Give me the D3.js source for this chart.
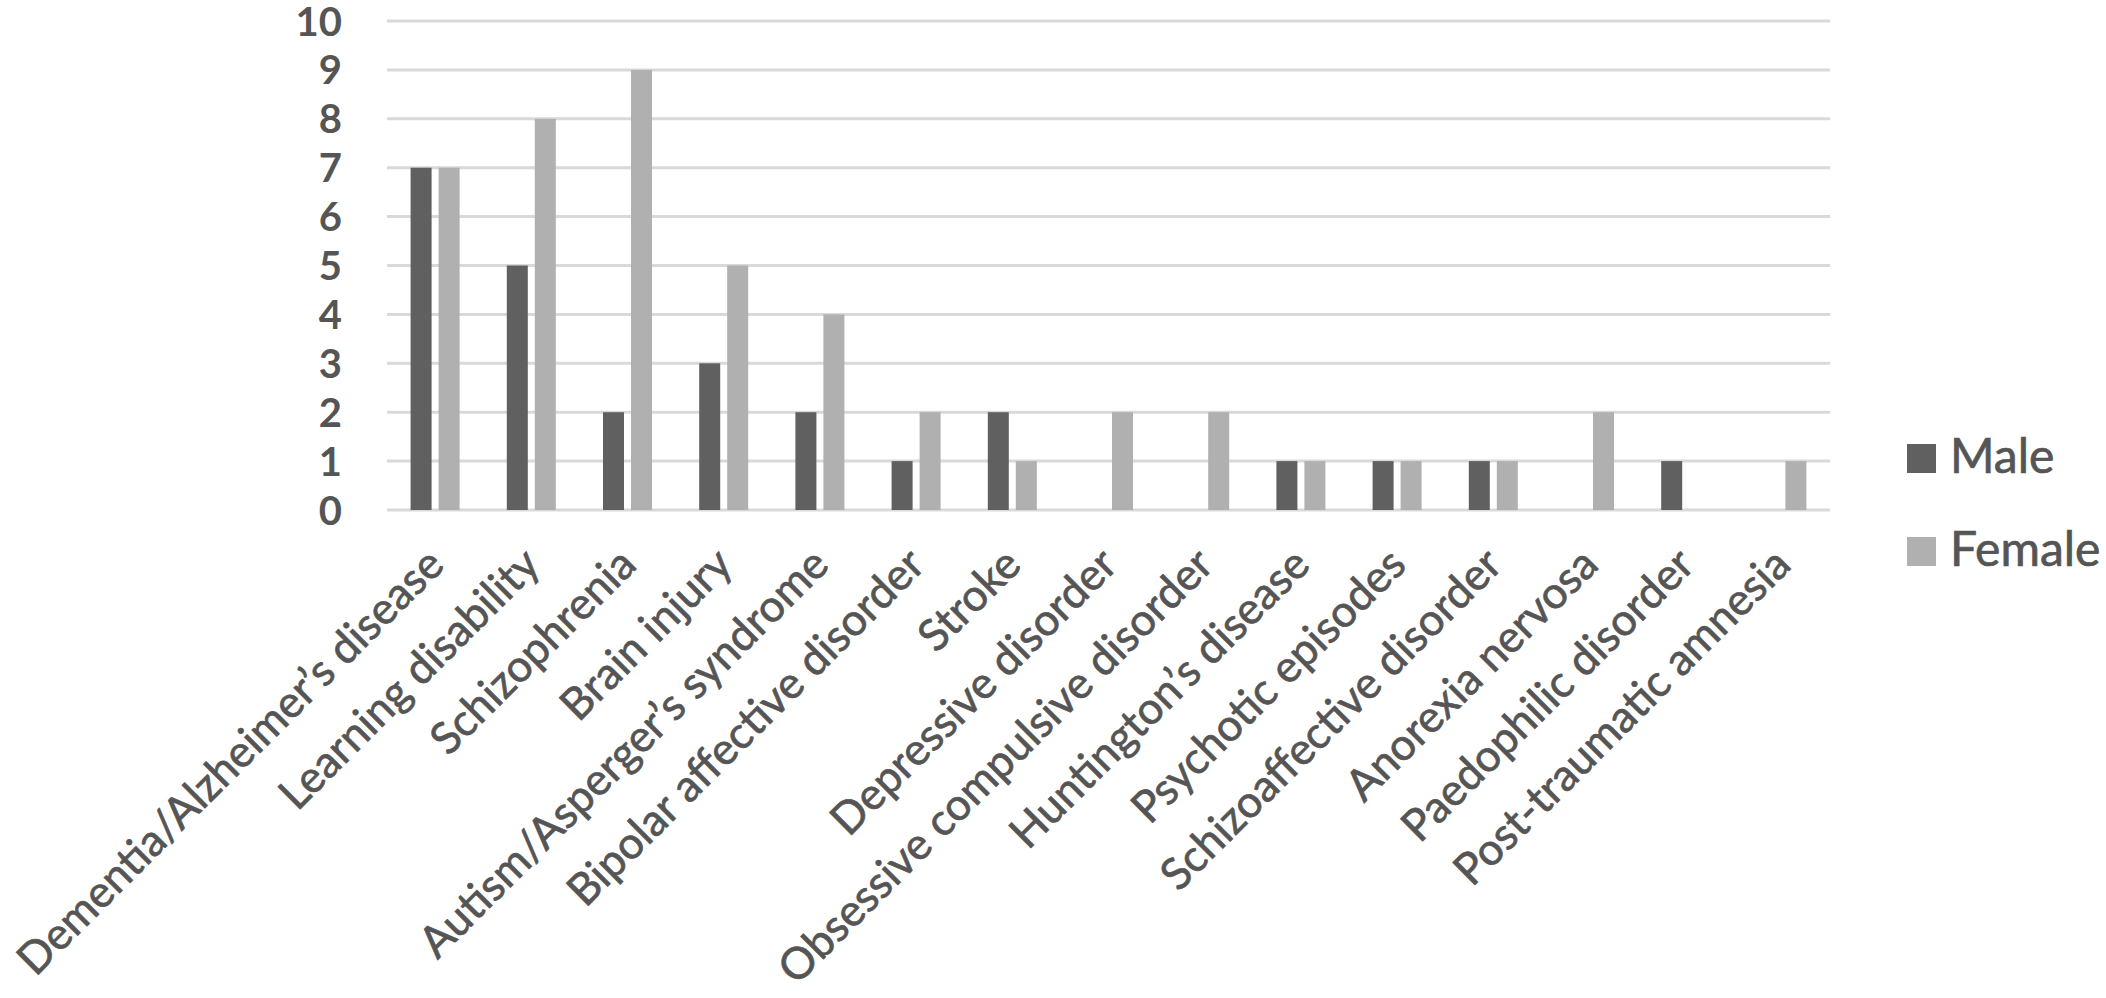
<!DOCTYPE html>
<html lang="en">
<head>
<meta charset="UTF-8">
<title>Diagnoses by sex</title>
<script src="https://cdn.jsdelivr.net/npm/d3@7"></script>
<style>
  body { margin: 0; background: #fff; }
  svg { display: block; }
  text { font-family: Lato, "Open Sans", sans-serif; fill: #555; }
  .grid line { stroke: #d9d9d9; stroke-width: 3; }
  .thick { stroke: #555; stroke-width: 0.7; }
</style>
</head>
<body>
<script>
const categories = [
  "Dementia/Alzheimer’s disease", "Learning disability", "Schizophrenia", "Brain injury",
  "Autism/Asperger’s syndrome", "Bipolar affective disorder", "Stroke", "Depressive disorder",
  "Obsessive compulsive disorder", "Huntington’s disease", "Psychotic episodes",
  "Schizoaffective disorder", "Anorexia nervosa", "Paedophilic disorder", "Post-traumatic amnesia"
]
const male   = [7, 5, 2, 3, 2, 1, 2, 0, 0, 1, 1, 1, 0, 1, 0]
const female = [7, 8, 9, 5, 4, 2, 1, 2, 2, 1, 1, 1, 2, 0, 1]
const seriesNames = ["Male", "Female"]
const yTicks = [0, 1, 2, 3, 4, 5, 6, 7, 8, 9, 10]

const width = 2106, height = 998
const colors = { Male: "#606060", Female: "#b0b0b0" }

const svg = d3.select("body").append("svg")
  .attr("width", width).attr("height", height)

const x0 = d3.scaleBand().domain(categories).range([387, 1830]).padding(0)
const x1 = d3.scaleBand().domain(seriesNames).range([0, x0.bandwidth()])
  .paddingInner(0.25).paddingOuter(0.843)
const y = d3.scaleLinear().domain([0, 10]).range([510, 21])

// gridlines
svg.append("g").attr("class", "grid")
  .selectAll("line").data(yTicks).enter().append("line")
  .attr("x1", 387).attr("x2", 1830)
  .attr("y1", d => y(d)).attr("y2", d => y(d))

// y labels
const yAxis = svg.append("g").attr("transform", "translate(342,0)")
  .call(d3.axisLeft(y).tickValues(yTicks).tickSize(0).tickPadding(0))
yAxis.select(".domain").remove()
yAxis.selectAll("text")
  .attr("font-size", 40).attr("font-weight", "bold")
  .attr("font-family", "Lato, sans-serif").attr("fill", "#555")
  .attr("x", 0).attr("dy", "0.35em")

// bars
const rows = categories.map((c, i) => ({ cat: c, Male: male[i], Female: female[i] }))
const groups = svg.append("g").selectAll("g").data(rows).enter().append("g")
  .attr("transform", d => `translate(${x0(d.cat)},0)`)
groups.selectAll("rect")
  .data(d => seriesNames.map(s => ({ s: s, v: d[s] })).filter(e => e.v > 0))
  .enter().append("rect")
  .attr("x", d => x1(d.s)).attr("width", x1.bandwidth())
  .attr("y", d => y(d.v)).attr("height", d => y(0) - y(d.v))
  .attr("fill", d => colors[d.s])

// category labels, rotated
svg.append("g").selectAll("text").data(categories).enter().append("text")
  .attr("class", "thick")
  .attr("transform", d => `translate(${x0(d) + x0.bandwidth() / 2 + 11},567) rotate(-45)`)
  .attr("text-anchor", "end")
  .attr("font-size", 44)
  .text(d => d)

// legend
const legend = svg.append("g").selectAll("g").data(seriesNames).enter().append("g")
  .attr("transform", (d, i) => `translate(1907,${444 + i * 93})`)
legend.append("rect").attr("width", 29).attr("height", 29).attr("fill", d => colors[d])
legend.append("text").attr("class", "thick").attr("x", 43).attr("y", 29)
  .attr("font-size", 48).text(d => d)
</script>
</body>
</html>
